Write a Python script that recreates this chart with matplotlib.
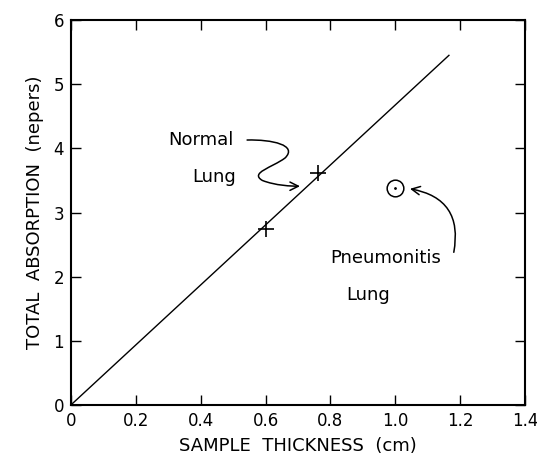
import matplotlib
matplotlib.use("Agg")
import matplotlib.pyplot as plt
from matplotlib.patches import FancyArrowPatch
from matplotlib.path import Path

# fitted line (through origin)
line_x = [0.0, 1.165]
line_y = [0.0, 5.45]

# normal lung samples
normal_x = [0.60, 0.76]
normal_y = [2.75, 3.62]

# pneumonitis lung sample
pneu_x = [1.0]
pneu_y = [3.38]

x_ticks = [0, 0.2, 0.4, 0.6, 0.8, 1.0, 1.2, 1.4]
x_labels = ['0', '0.2', '0.4', '0.6', '0.8', '1.0', '1.2', '1.4']
y_ticks = [0, 1, 2, 3, 4, 5, 6]

plt.rcParams['font.family'] = ['DejaVu Sans']

fig = plt.figure(figsize=(5.37, 4.61), dpi=100)
ax = fig.add_axes([0.132, 0.1215, 0.846, 0.835])

ax.plot(line_x, line_y, color='black', linewidth=1.0)
ax.plot(normal_x, normal_y, '+', color='black', markersize=11, markeredgewidth=1.2)
ax.plot(pneu_x, pneu_y, 'o', markerfacecolor='white', markeredgecolor='black',
        markersize=12, markeredgewidth=1.1)
ax.plot(pneu_x, pneu_y, '.', color='black', markersize=2)

ax.set_xlim(0, 1.4)
ax.set_ylim(0, 6)
ax.set_xticks(x_ticks)
ax.set_xticklabels(x_labels)
ax.set_yticks(y_ticks)
ax.tick_params(direction='in', length=7, width=1.0, labelsize=12,
               top=True, right=True, pad=5)
for spine in ax.spines.values():
  spine.set_linewidth(1.5)

ax.set_xlabel('SAMPLE  THICKNESS  (cm)', fontsize=13, labelpad=5)
ax.set_ylabel('TOTAL  ABSORPTION  (nepers)', fontsize=13, labelpad=7)

# annotations
ax.text(0.40, 4.13, 'Normal', fontsize=13, ha='center', va='center')
ax.text(0.44, 3.55, 'Lung', fontsize=13, ha='center', va='center')
ax.text(0.97, 2.29, 'Pneumonitis', fontsize=13, ha='center', va='center')
ax.text(0.915, 1.71, 'Lung', fontsize=13, ha='center', va='center')

squiggle = Path([(0.543, 4.13), (0.62, 4.14), (0.70, 4.05), (0.66, 3.85),
                 (0.62, 3.70), (0.55, 3.62), (0.59, 3.50), (0.63, 3.42),
                 (0.68, 3.41), (0.706, 3.41)],
                [Path.MOVETO, Path.CURVE4, Path.CURVE4, Path.CURVE4,
                 Path.CURVE4, Path.CURVE4, Path.CURVE4, Path.CURVE4,
                 Path.CURVE4, Path.CURVE4])
ax.add_patch(FancyArrowPatch(path=squiggle, arrowstyle='->,head_length=6,head_width=3',
                             color='black', linewidth=1.1,
                             transform=ax.transData))

ax.annotate('', xy=(1.045, 3.37), xytext=(1.18, 2.38),
            arrowprops=dict(arrowstyle='->,head_length=0.6,head_width=0.3',
                            color='black', linewidth=1.1,
                            connectionstyle='arc3,rad=0.5',
                            shrinkA=0, shrinkB=0))

plt.savefig('out.png', format='png')
plt.close()
